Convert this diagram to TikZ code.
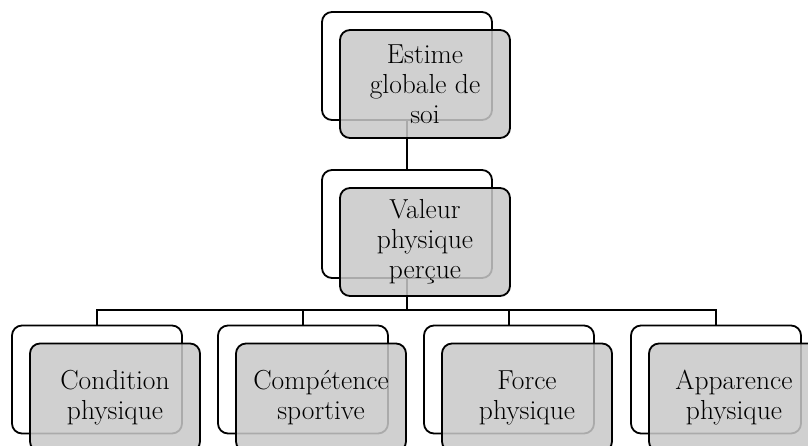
\documentclass[tikz,border=0pt]{standalone}
\usetikzlibrary{positioning}
\definecolor{boxgray}{RGB}{200,200,200}

\tikzset{
  backbox/.style={draw, line width=1.8pt, rounded corners=10pt, minimum width=170pt,
    minimum height=108pt, inner sep=0pt, outer sep=0pt},
  frontbox/.style={backbox, fill=boxgray, fill opacity=0.85, text opacity=1,
    align=center, font=\fontsize{27.5}{30}\selectfont},
  link/.style={line width=1.8pt}
}

\begin{document}
\begin{tikzpicture}[x=1pt,y=-1pt]
\useasboundingbox (0,0) rectangle (808,446);

% Back boxes
\node[backbox] (globback) at (407,66) {};
\node[backbox, below=50pt of globback] (valback) {};
\node[backbox] (condback) at (97,379.5) {};
\node[backbox] (compback) at (303,379.5) {};
\node[backbox] (forceback) at (509,379.5) {};
\node[backbox] (appback) at (716,379.5) {};

% Connectors
\coordinate (bus) at (407,310);
\draw[link] (globback.south) -- (valback.north);
\draw[link] (valback.south) -- (bus);
\draw[link] (condback.north) |- (bus);
\draw[link] (compback.north) |- (bus);
\draw[link] (forceback.north) |- (bus);
\draw[link] (appback.north) |- (bus);

% Front boxes with the texts
\node[frontbox, below right=18pt and 18pt of globback.north west] (glob) {Estime\\globale de\\soi};
\node[frontbox, below right=18pt and 18pt of valback.north west] (val) {Valeur\\physique\\per\c{c}ue};
\node[frontbox, below right=18pt and 18pt of condback.north west] (cond) {Condition\\physique};
\node[frontbox, below right=18pt and 18pt of compback.north west] (comp) {Comp\'etence\\sportive};
\node[frontbox, below right=18pt and 18pt of forceback.north west] (force) {Force\\physique};
\node[frontbox, below right=18pt and 18pt of appback.north west] (app) {Apparence\\physique};
\end{tikzpicture}
\end{document}
